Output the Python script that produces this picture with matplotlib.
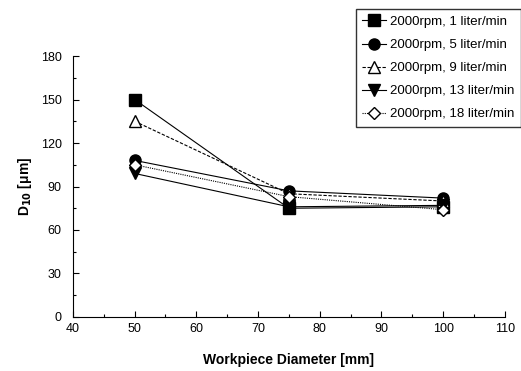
import matplotlib
matplotlib.use("Agg")
import matplotlib.pyplot as plt

plt.rcParams['font.family'] = ['Liberation Sans', 'DejaVu Sans']

diameters = [50, 75, 100]
labels = ["2000rpm, 1 liter/min", "2000rpm, 5 liter/min", "2000rpm, 9 liter/min",
          "2000rpm, 13 liter/min", "2000rpm, 18 liter/min"]
d10_1 = [150, 75, 76]
d10_5 = [108, 87, 82]
d10_9 = [135, 85, 80]
d10_13 = [99, 76, 77]
d10_18 = [105, 83, 74]

series = [d10_1, d10_5, d10_9, d10_13, d10_18]
markers = ['s', 'o', '^', 'v', 'D']
fills = ['black', 'black', 'white', 'black', 'white']
styles = ['-', '-', (0, (3, 1.5)), '-', (0, (1, 1))]
sizes = [8, 8, 8, 8, 6.5]

fig = plt.figure(figsize=(5.21, 3.71), dpi=100)
ax = fig.add_axes([0.140, 0.1456, 0.829, 0.7034])

for vals, lab, m, fc, ls, ms in zip(series, labels, markers, fills, styles, sizes):
    ax.plot(diameters, vals, color='black', linestyle=ls, linewidth=0.8,
            marker=m, markersize=ms, markerfacecolor=fc, markeredgecolor='black',
            markeredgewidth=1.0, label=lab)

ax.set_xlim(40, 110)
ax.set_ylim(0, 180)
ax.set_xticks(range(40, 111, 10))
ax.set_xticks(range(45, 110, 10), minor=True)
ax.set_yticks(range(0, 181, 30))
ax.set_yticks(range(15, 180, 30), minor=True)
ax.tick_params(direction='in', length=4, width=0.8, labelsize=9)
ax.tick_params(axis='y', pad=8)
ax.tick_params(axis='x', pad=4)
ax.tick_params(which='minor', direction='in', length=2, width=0.8)
ax.spines['top'].set_visible(False)
ax.spines['right'].set_visible(False)

ax.set_xlabel('Workpiece Diameter [mm]', fontsize=10, fontweight='bold', labelpad=13)
ax.set_ylabel('D$_{\\mathbf{10}}$ [μm]', fontsize=10, fontweight='bold', labelpad=5)

leg = fig.legend(loc='upper right', bbox_to_anchor=(1.0, 0.975), fontsize=9.5,
                 frameon=True, fancybox=False, edgecolor='black', handlelength=1.8,
                 borderpad=0.5, labelspacing=0.82, handletextpad=0.3,
                 borderaxespad=0.0)
leg.get_frame().set_linewidth(1.0)

fig.savefig('out.png', dpi=100)
